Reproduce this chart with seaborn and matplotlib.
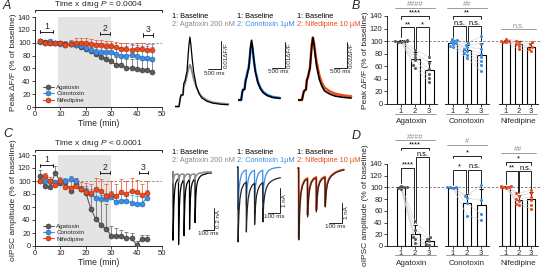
import numpy as np
import pandas as pd
import seaborn as sns
import matplotlib.pyplot as plt
from matplotlib.lines import Line2D

sns.set_style('ticks')
plt.rcParams['font.family'] = ['Liberation Sans', 'DejaVu Sans']
plt.rcParams['mathtext.fontset'] = 'custom'
plt.rcParams['mathtext.it'] = 'Liberation Sans:italic'
plt.rcParams['mathtext.rm'] = 'Liberation Sans'
plt.rcParams['axes.linewidth'] = 0.7

GREY = '#5c5c5c'
BLUE = '#3a8fe6'
RED = '#ee4a1e'

# ---- time course A (peak dF/F) ----
time_a = [2, 4, 6, 8, 10, 12, 14, 16, 18, 20, 22, 24, 26, 28, 30, 32, 34, 36, 38, 40, 42, 44, 46]
aga_a = [102, 101, 100, 100, 99, 98, 98, 96, 94, 90, 87, 83, 78, 75, 71, 66, 65, 61, 60, 59, 57, 57, 55]
con_a = [101, 100, 102, 100, 98, 97, 98, 97, 95, 92, 88, 86, 85, 86, 86, 82, 80, 80, 81, 79, 77, 76, 74]
nif_a = [103, 99, 100, 99, 99, 96, 98, 99, 100, 99, 98, 97, 96, 95, 95, 93, 91, 90, 89, 91, 90, 89, 89]
aga_a_err = [3, 3, 3, 3, 3, 3, 4, 5, 5, 6, 7, 8, 9, 10, 11, 12, 13, 14, 15, 15, 16, 16, 16]
con_a_err = [3, 3, 3, 3, 3, 4, 5, 6, 7, 8, 9, 10, 11, 11, 12, 13, 14, 15, 16, 17, 18, 19, 20]
nif_a_err = [3, 3, 3, 3, 4, 6, 7, 8, 8, 8, 8, 8, 8, 8, 8, 8, 9, 9, 9, 9, 9, 9, 9]

# ---- time course C (oIPSC) ----
time_c = [2, 4, 6, 8, 10, 12, 14, 16, 18, 20, 22, 24, 26, 28, 30, 32, 34, 36, 38, 40, 42, 44]
aga_c = [107, 92, 91, 113, 97, 98, 85, 95, 87, 82, 57, 41, 33, 26, 16, 16, 15, 12, 12, 2, 11, 11]
con_c = [100, 100, 100, 99, 100, 100, 103, 100, 87, 85, 80, 74, 73, 72, 75, 67, 69, 70, 66, 65, 65, 74]
nif_c = [100, 107, 100, 94, 100, 91, 90, 92, 87, 83, 81, 87, 85, 77, 80, 77, 83, 80, 85, 83, 78, 82]
aga_c_err = [10, 6, 5, 10, 5, 5, 8, 6, 5, 8, 25, 35, 45, 38, 15, 12, 10, 10, 8, 6, 6, 6]
con_c_err = [3, 3, 3, 3, 4, 4, 5, 5, 6, 8, 8, 9, 9, 10, 10, 10, 11, 11, 12, 12, 12, 12]
nif_c_err = [8, 6, 6, 6, 6, 8, 10, 12, 12, 14, 15, 18, 18, 18, 20, 18, 20, 20, 20, 18, 18, 18]

# ---- bar panels: individual cells for conditions 1, 2, 3 ----
b_aga = [[101, 100, 102, 99, 100, 98], [86, 80, 75, 70, 62, 58], [75, 66, 55, 47, 42, 35]]
b_con = [[104, 102, 100, 98, 97, 95, 93, 90], [97, 94, 90, 88, 85, 81, 78, 73],
         [108, 96, 88, 80, 74, 68, 62, 52]]
b_nif = [[103, 101, 100, 99, 98], [101, 98, 95, 93, 88], [99, 95, 91, 88, 84]]
d_aga = [[103, 101, 99, 97, 100], [42, 28, 15, 5, 12], [15, 12, 8, 3, 2]]
d_con = [[100, 100, 99, 100], [86, 82, 73, 52], [104, 78, 55, 45]]
d_nif = [[103, 102, 101, 100, 99, 100], [90, 86, 80, 76, 72, 70], [96, 90, 84, 78, 70, 64]]
cond_labels = ['1', '2', '3']
group_names = ['Agatoxin', 'Conotoxin', 'Nifedipine']

# ---- example Ca traces (dF/F) ----
ca_time = [0, 150, 200, 230, 300, 330, 380, 420, 450, 480, 520, 560, 600, 650, 700, 800, 900, 1000, 1200,
           1400, 1700, 2000]
aga_base_ca = [0, 0, 0.003, 0.004, 0.004, 0.008, 0.009, 0.011, 0.012, 0.016, 0.021, 0.024, 0.021, 0.016, 0.012,
               0.007, 0.0045, 0.003, 0.0018, 0.0012, 0.0008, 0.0006]
aga_drug_ca = [0, 0, 0.003, 0.004, 0.004, 0.007, 0.008, 0.0095, 0.0105, 0.012, 0.0135, 0.0145, 0.0135, 0.0115,
               0.0095, 0.0068, 0.0048, 0.0035, 0.0022, 0.0015, 0.0011, 0.0009]
con_ca_time = [0, 120, 160, 190, 250, 280, 330, 370, 400, 430, 470, 510, 550, 600, 650, 750, 850, 950, 1100,
               1300, 1580]
con_base_ca = [0, 0, 0.003, 0.004, 0.004, 0.007, 0.009, 0.011, 0.012, 0.015, 0.020, 0.023, 0.020, 0.015, 0.011,
               0.0065, 0.0042, 0.0028, 0.0017, 0.001, 0.0006]
con_drug_ca = [0, 0, 0.003, 0.004, 0.0045, 0.0075, 0.0095, 0.0115, 0.0125, 0.015, 0.0195, 0.022, 0.0195, 0.015,
               0.0115, 0.007, 0.0046, 0.0031, 0.002, 0.0012, 0.0008]
nif_base_ca = [0, 0, 0.005, 0.007, 0.008, 0.015, 0.018, 0.022, 0.024, 0.032, 0.042, 0.048, 0.043, 0.034, 0.026,
               0.016, 0.0105, 0.007, 0.0045, 0.003, 0.002, 0.0015]
nif_drug_ca = [0, 0, 0.005, 0.007, 0.008, 0.015, 0.018, 0.022, 0.025, 0.033, 0.043, 0.048, 0.044, 0.036, 0.029,
               0.019, 0.013, 0.0095, 0.0065, 0.0048, 0.0035, 0.0028]

# ---- example oIPSC traces (nA) ----
aga_ipsc_t = [-5, 0, 1, 3, 8, 15, 25, 40, 50, 51, 53, 58, 65, 75, 90, 100, 101, 103, 108, 115, 125, 140, 150,
              151, 153, 158, 165, 175, 190, 200, 201, 203, 208, 215, 225, 240, 260, 290, 320, 350]
aga_base_ipsc = [0, 0, -0.62, -0.5, -0.3, -0.17, -0.1, -0.07, -0.06, -0.66, -0.53, -0.32, -0.19, -0.12, -0.08,
                 -0.07, -0.58, -0.46, -0.28, -0.17, -0.11, -0.08, -0.07, -0.52, -0.41, -0.25, -0.15, -0.1, -0.07,
                 -0.06, -0.46, -0.37, -0.22, -0.13, -0.08, -0.05, -0.03, -0.02, -0.01, -0.01]
aga_drug_ipsc = [0, 0, -0.1, -0.08, -0.05, -0.03, -0.02, -0.02, -0.02, -0.09, -0.07, -0.05, -0.03, -0.02, -0.02,
                 -0.02, -0.08, -0.06, -0.04, -0.03, -0.02, -0.02, -0.02, -0.07, -0.06, -0.04, -0.03, -0.02, -0.02,
                 -0.02, -0.07, -0.05, -0.04, -0.03, -0.02, -0.01, -0.01, 0, 0, 0]
ipsc_t = [-5, 0, 1, 3, 8, 16, 28, 45, 66, 67, 69, 74, 82, 94, 111, 132, 133, 135, 140, 148, 160, 177, 198, 199,
          201, 206, 214, 226, 243, 265, 290, 320, 340]
con_base_ipsc = [0, 0, -3.0, -2.5, -1.8, -1.25, -0.9, -0.7, -0.6, -2.6, -2.25, -1.7, -1.25, -0.95, -0.75, -0.65,
                 -2.3, -2.0, -1.55, -1.15, -0.9, -0.72, -0.62, -2.2, -1.9, -1.45, -1.1, -0.85, -0.68, -0.57, -0.5,
                 -0.45, -0.43]
con_drug_ipsc = [0, 0, -1.7, -1.35, -0.9, -0.55, -0.3, -0.17, -0.12, -1.5, -1.2, -0.8, -0.5, -0.3, -0.18, -0.13,
                 -1.45, -1.15, -0.78, -0.5, -0.3, -0.18, -0.13, -1.4, -1.1, -0.75, -0.48, -0.28, -0.15, -0.08,
                 -0.04, -0.02, -0.02]
nif_base_ipsc = [0, 0, -3.6, -2.9, -2.0, -1.3, -0.9, -0.65, -0.55, -2.45, -2.1, -1.5, -1.05, -0.75, -0.58, -0.5,
                 -2.2, -1.9, -1.35, -0.95, -0.7, -0.55, -0.48, -1.95, -1.7, -1.2, -0.85, -0.6, -0.42, -0.3, -0.2,
                 -0.13, -0.1]
nif_drug_ipsc = [0, 0, -3.5, -2.85, -1.95, -1.25, -0.85, -0.6, -0.5, -2.35, -2.0, -1.45, -1.0, -0.7, -0.53, -0.45,
                 -2.1, -1.8, -1.3, -0.9, -0.65, -0.5, -0.43, -1.85, -1.6, -1.15, -0.8, -0.55, -0.38, -0.26, -0.17,
                 -0.1, -0.08]

W, H = 543, 268
fig = plt.figure(figsize=(W / 100, H / 100), dpi=100)


def box(l, t, r, b):
    return fig.add_axes([l / W, 1 - b / H, (r - l) / W, (b - t) / H])


def style_ticks(ax):
    ax.tick_params(labelsize=5.5, length=2.2, width=0.6, pad=1)


def period(ax, x1, x2, y, txt):
    ax.plot([x1, x2], [y, y], color='k', lw=0.6)
    ax.plot([x1, x1], [y - 2.5, y + 2.5], color='k', lw=0.6)
    ax.plot([x2, x2], [y - 2.5, y + 2.5], color='k', lw=0.6)
    ax.text((x1 + x2) / 2, y + 1.5, txt, ha='center', va='bottom', fontsize=6.3)


def time_course(ax, t, rows, ylabel, ptext, ytop, periods):
    ax.axvspan(9, 30, color='#e4e4e4', lw=0, zorder=0)
    ax.axhline(100, color='#808080', ls=(0, (3, 2)), lw=0.6, zorder=1)
    for name, mean, err, col, edge in rows:
        ax.errorbar(t, mean, yerr=[np.zeros(len(err)), err], fmt='none', ecolor=col, elinewidth=0.5,
                    capsize=1.2, capthick=0.5, zorder=2)
        sns.lineplot(x=t, y=mean, ax=ax, color=col, lw=0.8, marker='o', markersize=3.6,
                     markeredgecolor=edge, markeredgewidth=0.4, label=name, zorder=3)
    ax.set_xlim(0, 50)
    ax.set_ylim(0, 140)
    ax.set_xticks(np.arange(0, 51, 10))
    ax.set_yticks(np.arange(0, 141, 20))
    ax.set_xlabel('Time (min)', fontsize=6.2, labelpad=0.5)
    ax.set_ylabel(ylabel, fontsize=6, labelpad=1)
    style_ticks(ax)
    sns.despine(ax=ax)
    ax.legend(loc='lower left', bbox_to_anchor=(0.04, 0.02), frameon=False, fontsize=4.5, handlelength=1.8,
              handletextpad=0.4, labelspacing=0.15, borderaxespad=0)
    for x1, x2, y, txt in periods:
        period(ax, x1, x2, y, txt)
    ax.plot([0, 0, 50, 50], [ytop - 3, ytop, ytop, ytop - 3], color='k', lw=0.6, clip_on=False)
    ax.text(25, ytop + 0.5, ptext, ha='center', va='bottom', fontsize=6)


def sig(ax, x1, x2, y, txt, l1, l2, color='k', fs=5.3):
    ax.plot([x1, x1, x2, x2], [l1, y, y, l2], color=color, lw=0.6, clip_on=False)
    ax.text((x1 + x2) / 2, y - 1, txt, ha='center', va='bottom', fontsize=fs, color=color, clip_on=False)


def bar_group(ax, conds, color, name, first, ylabel, sigs):
    df = pd.DataFrame({'cond': np.repeat(cond_labels, [len(c) for c in conds]),
                       'val': np.concatenate(conds)})
    sns.barplot(data=df, x='cond', y='val', errorbar=None, color='white', saturation=1, edgecolor='black',
                linewidth=0.8, width=0.62, ax=ax, zorder=2)
    means = [np.mean(c) for c in conds]
    sds = [np.std(c, ddof=1) for c in conds]
    ax.errorbar([0, 1, 2], means, yerr=[[0, 0, 0], sds], fmt='none', ecolor='k', elinewidth=0.7, capsize=1.5,
                capthick=0.7, zorder=3)
    for i in range(len(conds[0])):
        ax.plot([0, 1, 2], [conds[0][i], conds[1][i], conds[2][i]], color='#cfcfcf', lw=0.4, zorder=3)
    sns.swarmplot(data=df, x='cond', y='val', color=color, size=2.2, ax=ax, zorder=4, warn_thresh=1)
    ax.set_ylim(0, 140)
    ax.set_xlim(-0.55, 2.55)
    ax.set_xticks([0, 1, 2], cond_labels)
    ax.set_xlabel(name, fontsize=5.8, labelpad=1.5)
    ax.plot([-0.45, 2.45], [-0.115, -0.115], color='#8c8c8c', lw=0.6, clip_on=False,
            transform=ax.get_xaxis_transform())
    ax.patch.set_visible(False)
    style_ticks(ax)
    sns.despine(ax=ax)
    if first:
        ax.set_yticks(np.arange(0, 141, 20))
        ax.set_ylabel(ylabel, fontsize=6, labelpad=1)
    else:
        ax.spines['left'].set_visible(False)
        ax.set_yticks([])
        ax.set_ylabel('')
    for s in sigs:
        sig(ax, *s)


def dashed_across(ax, x_right):
    y = fig.transFigure.inverted().transform(ax.transData.transform((0, 100)))[1]
    x0 = fig.transFigure.inverted().transform(ax.transAxes.transform((0, 0)))[0]
    fig.add_artist(Line2D([x0, x_right / W], [y, y], transform=fig.transFigure, color='#707070',
                          ls=(0, (3, 2)), lw=0.6, zorder=-1))


def scalebar(ax, x0, y0, dx, dy, xl, yl):
    ax.plot([x0 - dx, x0, x0], [y0, y0, y0 + dy], color='k', lw=0.6, clip_on=False)
    ax.annotate(xl, (x0 - dx / 2, y0), xytext=(0, -1), textcoords='offset points', ha='center', va='top',
                fontsize=4.5, annotation_clip=False)
    ax.annotate(yl, (x0, y0 + dy / 2), xytext=(1.5, 0), textcoords='offset points', ha='left', va='center',
                rotation=90, fontsize=4.5, annotation_clip=False)


def trace_ax(l, t, r, b, xlim, ylim):
    ax = box(l, t, r, b)
    ax.set_xlim(*xlim)
    ax.set_ylim(*ylim)
    ax.axis('off')
    return ax


# ---- panel A time course ----
axA = box(35, 17, 162, 107)
time_course(axA, time_a,
            [('Agatoxin', aga_a, aga_a_err, GREY, '#333333'),
             ('Conotoxin', con_a, con_a_err, BLUE, '#1f5fa8'),
             ('Nifedipine', nif_a, nif_a_err, RED, '#a02c10')],
            'Peak ΔF/F (% of baseline)', 'Time x drug $\\it{P}$ = 0.0004', 151,
            [(2, 7, 117, '1'), (25.5, 29.5, 114, '2'), (42.5, 46.5, 112, '3')])

# ---- panel C time course ----
axC = box(35, 155, 162, 246)
time_course(axC, time_c,
            [('Agatoxin', aga_c, aga_c_err, GREY, '#333333'),
             ('Conotoxin', con_c, con_c_err, BLUE, '#1f5fa8'),
             ('Nifedipine', nif_c, nif_c_err, RED, '#a02c10')],
            'oIPSC amplitude (% of baseline)', 'Time x drug $\\it{P}$ < 0.0001', 148,
            [(2, 7, 124, '1'), (25.5, 29.5, 113, '2'), (41, 44.5, 113, '3')])

# ---- Ca traces (A) ----
t1 = trace_ax(175, 33, 232, 110, (0, 2140), (-0.0012, 0.0254))
t1.plot(ca_time, aga_drug_ca, color='#8a8a8a', lw=1.3)
t1.plot(ca_time, aga_base_ca, color='k', lw=0.9)
scalebar(t1, 1740, 0.0128, 500, 0.01, '500 ms', '0.01ΔF/F')

t2 = trace_ax(238, 33, 292, 110, (0, 2030), (-0.00385, 0.0258))
t2.plot(con_ca_time, con_drug_ca, color=BLUE, lw=1.8)
t2.plot(con_ca_time, con_base_ca, color='k', lw=1.2)
scalebar(t2, 1767, 0.0123, 500, 0.01, '500 ms', '0.01ΔF/F')

t3 = trace_ax(298, 33, 358, 110, (0, 2256), (-0.0077, 0.0515))
t3.plot(ca_time, nif_drug_ca, color=RED, lw=1.8)
t3.plot(ca_time, nif_base_ca, color='k', lw=1.2)
scalebar(t3, 1842, 0.0246, 500, 0.02, '500 ms', '0.02ΔF/F')

# ---- oIPSC traces (C) ----
t4 = trace_ax(172, 168, 231, 250, (-9, 528), (-0.709, 0.036))
t4.plot(aga_ipsc_t, aga_base_ipsc, color='k', lw=0.9)
t4.plot(aga_ipsc_t, aga_drug_ipsc, color='#8a8a8a', lw=1.1)
scalebar(t4, 373, -0.527, 100, 0.2, '100 ms', '0.2 nA')

t5 = trace_ax(236, 165, 292, 250, (-16, 432), (-3.32, 0.08))
t5.plot(ipsc_t, con_drug_ipsc, color=BLUE, lw=0.9)
t5.plot(ipsc_t, con_base_ipsc, color='#222222', lw=0.9)
scalebar(t5, 336, -1.84, 100, 1, '100 ms', '1 nA')

t6 = trace_ax(296, 165, 352, 250, (-20, 400), (-4.1, 0.15))
t6.plot(ipsc_t, nif_drug_ipsc, color=RED, lw=1.4)
t6.plot(ipsc_t, nif_base_ipsc, color='#222222', lw=0.8)
scalebar(t6, 325, -2.75, 100, 1, '100 ms', '1 nA')

# trace legends
for x, drug, col in [(172, 'Agatoxin 200 nM', '#8a8a8a'), (237, 'Conotoxin 1µM', BLUE),
                     (297, 'Nifedipine 10 µM', RED)]:
    for y0 in (17, 152):
        fig.text(x / W, 1 - y0 / H, '1: Baseline', fontsize=5.3, va='center', color='k')
        fig.text(x / W, 1 - (y0 + 8) / H, '2: ' + drug, fontsize=5.3, va='center', color=col)

# ---- panel B / D bars ----
b_sigs = [
    [(-0.4, 2.4, 153, '####', 153, 153, '#8c8c8c'), (0, 2, 140, '****', 136, 136),
     (0, 0.94, 122, '**', 106, 88), (1.06, 2, 122, '*', 88, 73)],
    [(-0.4, 2.4, 153, '##', 153, 153, '#8c8c8c'), (0, 2, 140, '**', 136, 136),
     (0, 0.94, 124, 'n.s.', 107, 98), (1.06, 2, 124, 'n.s.', 98, 100)],
    [(-0.4, 2.4, 119, 'n.s.', 119, 119, '#8c8c8c')],
]
d_sigs = [
    [(-0.4, 2.4, 181, '####', 181, 181, '#8c8c8c'), (0, 2, 168, '****', 164, 164),
     (1.06, 2, 152, 'n.s.', 40, 18), (0, 0.94, 133, '****', 107, 40)],
    [(-0.4, 2.4, 173, '#', 173, 173, '#8c8c8c'), (0, 2, 154, '*', 150, 150),
     (0, 0.94, 130, '*', 104, 90), (1.06, 2, 130, 'n.s.', 90, 99)],
    [(-0.4, 2.4, 159, '##', 159, 159, '#8c8c8c'), (0, 2, 143, '*', 139, 139),
     (0, 0.94, 128, '**', 106, 90), (1.06, 2, 128, 'n.s.', 90, 95)],
]
colors = [GREY, BLUE, RED]
boxes = [(387, 437), (445, 489), (499, 538)]

for data, sigs, top, bottom, ylab in [([b_aga, b_con, b_nif], b_sigs, 16, 104, 'Peak ΔF/F (% of baseline)'),
                                      ([d_aga, d_con, d_nif], d_sigs, 164, 246,
                                       'oIPSC amplitude (% of baseline)')]:
    axes = []
    for i in range(3):
        l, r = boxes[i]
        ax = box(l, top, r, bottom)
        bar_group(ax, data[i], colors[i], group_names[i], i == 0, ylab, sigs[i])
        if i == 0:
            ax.set_xlim(-1.0, 2.55)
        axes.append(ax)
    dashed_across(axes[0], 541)

# panel letters
for x, y, s in [(3, 6, 'A'), (352, 6, 'B'), (3, 134, 'C'), (352, 136, 'D')]:
    fig.text(x / W, 1 - y / H, s, fontsize=9, style='italic', va='center')

fig.savefig('out.png', dpi=100)
